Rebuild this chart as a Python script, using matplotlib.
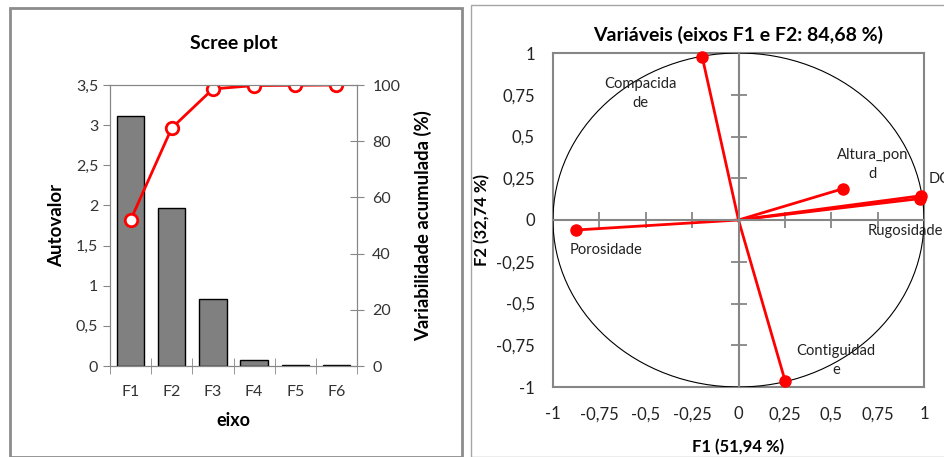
import matplotlib.pyplot as plt
from matplotlib.patches import Rectangle, Circle
from matplotlib.ticker import FixedLocator

plt.rcParams['font.family'] = ['Lato', 'DejaVu Sans']

# scree plot data
eixos = ['F1', 'F2', 'F3', 'F4', 'F5', 'F6']
autovalor = [3.12, 1.97, 0.83, 0.075, 0.012, 0.01]
acumulada = [51.94, 84.68, 98.6, 99.8, 99.9, 100]

# variables (correlation circle)
variaveis = ['Compacidade', 'Altura_pond', 'DC', 'Rugosidade', 'Porosidade', 'Contiguidade']
f1 = [-0.195, 0.562, 0.982, 0.978, -0.876, 0.251]
f2 = [0.974, 0.187, 0.145, 0.128, -0.06, -0.962]
rotulos = ['Compacida\nde', 'Altura_pon\nd', 'DC', 'Rugosidade', 'Porosidade', 'Contiguidad\ne']
rot_x = [-0.526, 0.724, 1.027, 0.695, -0.908, 0.526]
rot_y = [0.76, 0.335, 0.245, -0.066, -0.18, -0.84]
rot_ha = ['center', 'center', 'left', 'left', 'left', 'center']

W, H = 944, 457
grey = '#868686'
red = '#FF0000'

fig = plt.figure(figsize=(W / 100, H / 100), dpi=100)


def box(x0, y0, x1, y1):
    return [x0 / W, 1 - y1 / H, (x1 - x0) / W, (y1 - y0) / H]


# panel borders
fig.patches.append(Rectangle((10 / W, 0), 452 / W, 1 - 8 / H, transform=fig.transFigure,
                             fill=False, edgecolor='#8c8c8c', lw=2))
fig.patches.append(Rectangle((471 / W, 0), 1, 1 - 5 / H, transform=fig.transFigure,
                             fill=False, edgecolor='#a6a6a6', lw=1))

# ---- scree plot ----
ax = fig.add_axes(box(110, 85, 357, 366))
pos = range(len(eixos))
ax.bar(pos, autovalor, width=0.66, color='#808080', edgecolor='black', lw=1)
ax.set_xlim(-0.5, len(eixos) - 0.5)
ax.set_ylim(0, 3.5)
ax.set_yticks([0, 0.5, 1, 1.5, 2, 2.5, 3, 3.5])
ax.set_yticklabels(['0', '0,5', '1', '1,5', '2', '2,5', '3', '3,5'])
ax.set_xticks(list(pos))
ax.set_xticklabels(eixos)
ax.xaxis.set_minor_locator(FixedLocator([i - 0.5 for i in range(len(eixos) + 1)]))
ax.tick_params(axis='x', which='major', length=0, pad=14, labelsize=11.5, colors='#333333')
ax.tick_params(axis='x', which='minor', direction='inout', length=11, color=grey)
ax.tick_params(axis='y', direction='out', length=5, color=grey, labelsize=11.5, labelcolor='#333333')
for s in ax.spines.values():
    s.set_color(grey)
ax.set_xlabel('eixo', fontsize=13, fontweight='bold', labelpad=9)
ax.set_ylabel('Autovalor', fontsize=13.5, fontweight='bold', labelpad=8)
ax.set_title('Scree plot', fontsize=14, fontweight='bold', pad=26)

ax2 = ax.twinx()
ax2.plot(pos, acumulada, color=red, lw=2, marker='o', ms=9, mfc='white', mec=red, mew=2)
ax2.set_ylim(0, 100)
ax2.set_yticks([0, 20, 40, 60, 80, 100])
ax2.tick_params(axis='y', direction='inout', length=10, color=grey, labelsize=11.5,
                labelcolor='#333333', pad=6)
for s in ax2.spines.values():
    s.set_color(grey)
ax2.set_ylabel('Variabilidade acumulada (%)', fontsize=13.3, fontweight='bold', labelpad=10)

# ---- correlation circle ----
frame = fig.add_axes(box(553, 53, 924, 387))
frame.set_xlim(-1, 1)
frame.set_ylim(-1, 1)
ticks = [-1, -0.75, -0.5, -0.25, 0, 0.25, 0.5, 0.75, 1]
tick_txt = ['-1', '-0,75', '-0,5', '-0,25', '0', '0,25', '0,5', '0,75', '1']
frame.set_xticks(ticks)
frame.set_xticklabels(tick_txt)
frame.set_yticks(ticks)
frame.set_yticklabels(tick_txt)
frame.tick_params(axis='x', length=0, labelsize=12, labelcolor='#222222', pad=14)
frame.tick_params(axis='y', length=0, labelsize=12, labelcolor='#222222', pad=13)
for s in frame.spines.values():
    s.set_color(grey)
    s.set_linewidth(1.5)
frame.set_xlabel('F1 (51,94 %)', fontsize=12, fontweight='bold', labelpad=12)
frame.set_ylabel('F2 (32,74 %)', fontsize=12, fontweight='bold', labelpad=4)
frame.set_title('Variáveis (eixos F1 e F2: 84,68 %)', fontsize=14, fontweight='bold', pad=9)

axc = fig.add_axes(box(553, 53, 924, 387))
axc.set_xlim(-1, 1)
axc.set_ylim(-1, 1)
axc.patch.set_alpha(0)
for side in ['top', 'right']:
    axc.spines[side].set_visible(False)
axc.spines['left'].set_position(('data', 0))
axc.spines['bottom'].set_position(('data', 0))
axc.spines['left'].set_color(grey)
axc.spines['bottom'].set_color(grey)
axc.spines['left'].set_linewidth(1.5)
axc.spines['bottom'].set_linewidth(1.5)
inner = [-0.75, -0.5, -0.25, 0.25, 0.5, 0.75]
axc.xaxis.set_major_locator(FixedLocator(inner))
axc.yaxis.set_major_locator(FixedLocator(inner))
axc.tick_params(direction='inout', length=11, width=1.3, color=grey,
                labelleft=False, labelbottom=False)

axc.add_patch(Circle((0, 0), 1, fill=False, edgecolor='black', lw=0.8))
for x, y in zip(f1, f2):
    axc.plot([0, x], [0, y], color=red, lw=2, solid_capstyle='round')
    axc.plot([x], [y], 'o', color=red, ms=8, clip_on=False)
for t, x, y, ha in zip(rotulos, rot_x, rot_y, rot_ha):
    axc.text(x, y, t, ha=ha, va='center', fontsize=10.6, color='#222222',
             linespacing=1.45, clip_on=False)

fig.savefig('out.png', dpi=100)
